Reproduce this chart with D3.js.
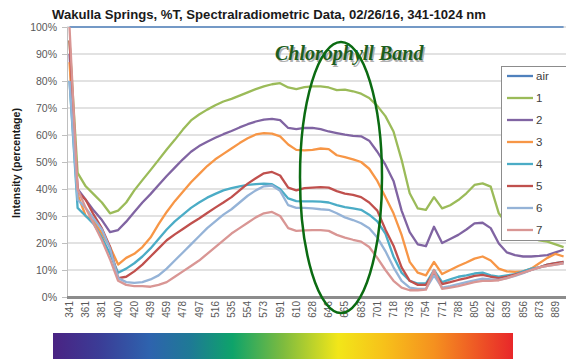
<!DOCTYPE html>
<html>
<head>
<meta charset="utf-8">
<script src="https://cdn.jsdelivr.net/npm/d3@7"></script>
<style>
  body { margin: 0; background: #fff; }
  svg { display: block; font-family: "Liberation Sans", Arial, sans-serif; }
</style>
</head>
<body>
<div id="cnt"></div>
<script>
// wavelength bins (nm), every other one is labelled on the axis
const wavelengths = [341, 351, 361, 371, 381, 390, 400, 410, 420, 430, 439, 449, 459, 469, 478, 488,
  497, 507, 516, 526, 535, 545, 554, 564, 573, 582, 591, 601, 610, 619, 628, 637, 646, 656, 665, 674,
  683, 692, 701, 710, 718, 727, 736, 745, 754, 763, 771, 780, 788, 797, 805, 814, 822, 831, 839, 848,
  856, 865, 873, 881, 889, 897]
const tickLabels = [341, 361, 381, 400, 420, 439, 459, 478, 497, 516, 535, 554, 573, 591, 610, 628,
  646, 665, 683, 701, 718, 736, 754, 771, 788, 805, 822, 839, 856, 873, 889]

const seriesNames = ['air', '1', '2', '3', '4', '5', '6', '7']
const seriesColors = ['#4f81bd', '#9bbb59', '#8064a2', '#f79646', '#4bacc6', '#c0504d', '#95b3d7', '#d99694']

const air = [100, 100, 100, 100, 100, 100, 100, 100, 100, 100, 100, 100, 100, 100, 100, 100, 100, 100, 100, 100,
  100, 100, 100, 100, 100, 100, 100, 100, 100, 100, 100, 100, 100, 100, 100, 100, 100, 100, 100, 100,
  100, 100, 100, 100, 100, 100, 100, 100, 100, 100, 100, 100, 100, 100, 100, 100, 100, 100, 100, 100, 100, 100]
const s1 = [95, 46, 41, 38, 35, 31, 32, 35, 39.5, 43.3, 47, 50.8, 54.6, 58.2, 62, 65.4, 67.6, 69.4, 71, 72.4,
  73.4, 74.6, 75.8, 77, 78, 78.8, 79.2, 77.6, 77, 77.7, 78, 78, 77.6, 76.6, 76.8, 76.2, 75.3, 73.7, 70.8, 67,
  61.3, 50.8, 38.4, 32.8, 32.3, 37, 32.8, 34, 35.9, 38.4, 41.5, 42.1, 40.9, 31, 27, 25, 23, 22, 21, 20.5, 19.5, 18.5]
const s2 = [90, 40, 36, 32, 28.5, 24, 24.8, 27.9, 31.5, 35, 38.1, 41.5, 44.8, 47.9, 51, 53.8, 55.9, 57.5, 59, 60.3,
  61.5, 62.8, 64, 65, 65.7, 66, 65.5, 62.6, 62.2, 62.6, 62.6, 62.2, 61.3, 60.7, 60.1, 59.7, 59.5, 57.9, 53.8, 49,
  43, 32, 24, 19.5, 18.8, 26, 20, 21.5, 23, 25, 27.3, 27.5, 25.5, 19.8, 16.5, 15.5, 15, 15, 15.2, 15.5, 16.5, 17.5]
const s3 = [87, 38, 30, 28, 23.5, 18.6, 12, 14.5, 16, 18.5, 22, 27, 31.5, 35.5, 39, 42.5, 45.5, 48.5, 51, 53,
  55, 57, 58.8, 60.2, 60.7, 60.5, 59.5, 56.5, 54.5, 54.3, 54.5, 55, 54.8, 52.5, 51.8, 51, 50, 47.5, 43, 37,
  31, 23, 13, 9, 8, 13, 8.5, 10, 11.5, 12.8, 14.2, 15, 13.5, 10.5, 9.5, 9.3, 9.5, 10.5, 12.5, 14.5, 16, 15]
const s4 = [80, 33, 30, 27, 22, 16, 9, 10.5, 12.5, 15, 18, 21.5, 25, 28, 30.5, 33, 35, 36.8, 38.2, 39.5,
  40.3, 41, 41.5, 41.8, 42, 41.8, 40, 36.5, 35.5, 35.4, 35.4, 35.3, 35, 34, 33.3, 32.8, 32.3, 30.5, 28, 23.5,
  15, 9, 6, 5, 5, 10, 5.5, 6.5, 7.5, 8, 8.7, 9, 8, 7.5, 8, 8.5, 9.5, 10.5, 11, 12, 12.5, 13]
const s5 = [95, 39, 36, 30.4, 25.4, 18.6, 7, 7.5, 9.5, 12, 15, 18, 21, 23.2, 25.2, 27.2, 29.1, 31.1, 33.1, 35,
  37, 39.5, 42, 44, 45.8, 46.3, 45, 40.5, 39.5, 40.3, 40.5, 40.7, 40.5, 39.2, 38.3, 37.8, 37, 35, 32, 25,
  19, 11, 6, 4.5, 4.5, 9, 4.8, 5.5, 6.3, 7, 7.8, 8.2, 7.5, 7, 7.5, 8.3, 9, 10, 11, 12, 12.5, 13]
const s6 = [80, 36, 33, 29, 25, 18, 7, 5.5, 5.2, 5.5, 6.5, 8, 10.5, 13.5, 16.5, 19.5, 22.5, 25.5, 28, 30.5,
  32.5, 35, 37.5, 39.5, 41, 41.3, 39.3, 34, 33, 33, 32.8, 32.5, 32.3, 31, 29.5, 28.5, 27.3, 25.5, 22, 17,
  11, 6, 3.5, 3, 3, 8, 3.5, 4, 4.8, 5.5, 6.2, 6.8, 6.5, 6.3, 7, 7.8, 8.8, 10, 11, 11.5, 12, 12.5]
const s7 = [100, 40, 33, 27, 21, 14, 6, 4.5, 4, 4, 3.8, 4.5, 5.5, 7.5, 9.5, 11.5, 13.5, 16, 18.5, 21,
  23.5, 25.5, 27.5, 29.5, 31, 31.5, 30, 25.5, 24.5, 24.7, 24.8, 24.8, 24.5, 23, 22, 21.2, 20.5, 18.5, 14.5, 10,
  6, 3.5, 2.5, 2.5, 2.7, 10, 3, 3.5, 4, 4.8, 5.5, 6, 6, 6.2, 7, 8, 9, 10, 11, 11.5, 12, 12.5]
const allSeries = [air, s1, s2, s3, s4, s5, s6, s7]

const yTicks = [0, 10, 20, 30, 40, 50, 60, 70, 80, 90, 100]

const spectrumOffsets = [0, 0.1, 0.21, 0.3, 0.39, 0.5, 0.62, 0.72, 0.83, 1]
const spectrumColors = ['#4a2383', '#3b3c96', '#2e63ae', '#1e7a95', '#0ea36a', '#7dbb3f', '#f2e619', '#f7c11a', '#f5901f', '#e8272a']

const W = 566, H = 361
const plotLeft = 67, plotTop = 27, plotBottom = 297, plotRight = 572

const svg = d3.select('#cnt')
  .append('svg')
  .attr('width', W)
  .attr('height', H)

svg.append('rect').attr('width', W).attr('height', H).attr('fill', '#fff')

const x = d3.scalePoint()
  .domain(wavelengths)
  .range([69.5, 69.5 + 8.1 * (wavelengths.length - 1)])
const y = d3.scaleLinear().domain([0, 100]).range([plotBottom, plotTop])

// title
svg.append('text')
  .attr('x', 52).attr('y', 19)
  .attr('textLength', 434).attr('lengthAdjust', 'spacingAndGlyphs')
  .style('font-size', '13px').style('font-weight', 'bold').attr('fill', '#1a1a1a')
  .text('Wakulla Springs, %T, Spectralradiometric Data, 02/26/16, 341-1024 nm')

// gridlines
svg.append('g')
  .selectAll('line')
  .data(yTicks.slice(1))
  .join('line')
  .attr('x1', plotLeft).attr('x2', plotRight)
  .attr('y1', d => y(d)).attr('y2', d => y(d))
  .attr('stroke', '#d9d9d9').attr('stroke-width', 1.5)

// y axis
const yAxis = svg.append('g')
  .attr('transform', `translate(${plotLeft},0)`)
  .call(d3.axisLeft(y).tickValues(yTicks).tickFormat(d => d + '%').tickSize(5).tickPadding(5))
yAxis.select('.domain').attr('stroke', '#bfbfbf')
yAxis.selectAll('.tick line').attr('stroke', '#bfbfbf')
yAxis.selectAll('.tick text')
  .style('font-size', '10.5px').attr('fill', '#595959')
  .style('font-family', '"Liberation Sans", Arial, sans-serif')

svg.append('text')
  .attr('transform', 'translate(19.5,163) rotate(-90)')
  .attr('text-anchor', 'middle')
  .attr('textLength', 110).attr('lengthAdjust', 'spacingAndGlyphs')
  .style('font-size', '10.5px').style('font-weight', 'bold').attr('fill', '#1a1a1a')
  .text('Intensity (percentage)')

// series
const line = d3.line()
  .x((d, i) => x(wavelengths[i]))
  .y(d => y(d))

svg.append('defs').append('clipPath').attr('id', 'plotclip')
  .append('rect').attr('x', plotLeft).attr('y', plotTop - 3)
  .attr('width', plotRight - plotLeft).attr('height', plotBottom - plotTop + 3)

svg.append('g')
  .attr('clip-path', 'url(#plotclip)')
  .selectAll('path')
  .data(allSeries)
  .join('path')
  .attr('d', line)
  .attr('fill', 'none')
  .attr('stroke', (d, i) => seriesColors[i])
  .attr('stroke-width', (d, i) => i === 0 ? 1.5 : 2.3)
  .attr('stroke-linejoin', 'round')

// x axis
svg.append('line')
  .attr('x1', plotLeft).attr('x2', W)
  .attr('y1', plotBottom + 0.5).attr('y2', plotBottom + 0.5)
  .attr('stroke', '#8c8c8c').attr('stroke-width', 3)

svg.append('g')
  .selectAll('text')
  .data(tickLabels)
  .join('text')
  .attr('transform', d => `translate(${x(d) + 3.5},301) rotate(-90)`)
  .attr('text-anchor', 'end')
  .style('font-size', '10px').attr('fill', '#595959')
  .text(d => d)

// legend
const legend = svg.append('g')
legend.append('rect')
  .attr('x', 501.5).attr('y', 66.5).attr('width', 80).attr('height', 174)
  .attr('fill', '#fff').attr('stroke', '#8c8c8c')
const item = legend.selectAll('g.item')
  .data(seriesNames)
  .join('g')
  .attr('class', 'item')
  .attr('transform', (d, i) => `translate(0,${76 + 22 * i})`)
item.append('line')
  .attr('x1', 507).attr('x2', 533)
  .attr('stroke', (d, i) => seriesColors[i]).attr('stroke-width', 2.3)
item.append('text')
  .attr('x', 536).attr('dy', '0.35em')
  .style('font-size', '11.5px').attr('fill', '#404040')
  .text(d => d)

// chlorophyll annotation
svg.append('text')
  .attr('x', 276.5).attr('y', 61.5)
  .style('font-family', '"Liberation Serif", "DejaVu Serif", serif')
  .style('font-size', '20px').style('font-weight', 'bold').style('font-style', 'italic')
  .attr('fill', '#b0b0b0')
  .text('Chlorophyll Band')
svg.append('text')
  .attr('x', 275).attr('y', 60)
  .style('font-family', '"Liberation Serif", "DejaVu Serif", serif')
  .style('font-size', '20px').style('font-weight', 'bold').style('font-style', 'italic')
  .attr('fill', '#1d5e1d')
  .text('Chlorophyll Band')

svg.append('ellipse')
  .attr('cx', 341).attr('cy', 177.5).attr('rx', 41).attr('ry', 135.5)
  .attr('fill', 'none').attr('stroke', '#0b6b12').attr('stroke-width', 2.5)

// spectrum strip
const grad = svg.select('defs').append('linearGradient').attr('id', 'spectrum')
grad.selectAll('stop')
  .data(spectrumOffsets)
  .join('stop')
  .attr('offset', d => d)
  .attr('stop-color', (d, i) => spectrumColors[i])
svg.append('rect')
  .attr('x', 53).attr('y', 333).attr('width', 460).attr('height', 26)
  .attr('fill', 'url(#spectrum)')
</script>
</body>
</html>
